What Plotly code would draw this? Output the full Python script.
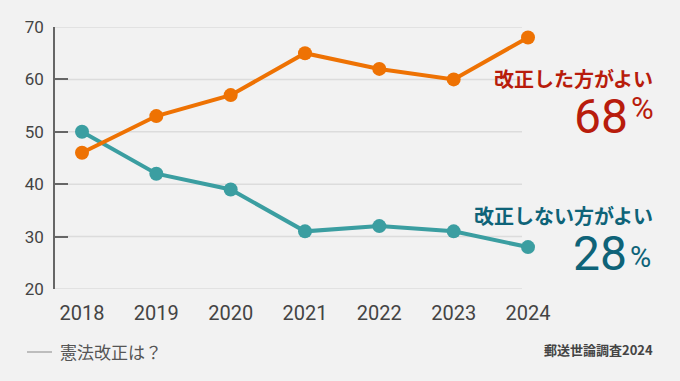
import plotly.graph_objects as go

years = [2018, 2019, 2020, 2021, 2022, 2023, 2024]
kaisei_yes = [46, 53, 57, 65, 62, 60, 68]
kaisei_no = [50, 42, 39, 31, 32, 31, 28]
y_ticks = [20, 30, 40, 50, 60, 70]

label_yes = "改正した方がよい"
label_no = "改正しない方がよい"
value_yes = "68"
value_no = "28"
legend_text = "憲法改正は？"
source_text = "郵送世論調査2024"

W, H = 680, 381
L, R, T, B = 55, 120, 27, 92
PW = W - L - R
PH = H - T - B

def px_x(x):
    return (x - L) / PW

def px_y(y):
    return (H - B - y) / PH

ORANGE = "#ee7203"
TEAL = "#3b9ea1"
RED = "#b81c0c"
BLUE = "#0e6378"
JP = "Noto Sans CJK JP"
NUM = "Roboto"

fig = go.Figure()
fig.add_trace(go.Scatter(x=years, y=kaisei_no, mode="lines+markers",
                         line=dict(color=TEAL, width=4),
                         marker=dict(size=14, color=TEAL),
                         cliponaxis=False, showlegend=False, hoverinfo="skip"))
fig.add_trace(go.Scatter(x=years, y=kaisei_yes, mode="lines+markers",
                         line=dict(color=ORANGE, width=4),
                         marker=dict(size=14, color=ORANGE),
                         cliponaxis=False, showlegend=False, hoverinfo="skip"))

pxyr = (528 - 82) / 6.0
x0 = 2018 - (82 - L) / pxyr
x1 = 2018 + (W - R - 82) / pxyr

shapes = []
grid_end = px_x(522)
for v in y_ticks:
    shapes.append(dict(type="line", xref="paper", yref="y", x0=0, x1=grid_end,
                       y0=v, y1=v, line=dict(color="#dcdcdc", width=1.5), layer="below"))
shapes.append(dict(type="line", xref="paper", yref="paper", x0=px_x(27), x1=px_x(52),
                   y0=px_y(352), y1=px_y(352), line=dict(color="#888888", width=1)))


def ann(text, x, y, anchor, family, size, color, height=None, bold=False):
    d = dict(text=f"<b>{text}</b>" if bold else text, x=px_x(x), y=px_y(y),
             xref="paper", yref="paper", xanchor=anchor, yanchor="middle",
             showarrow=False, borderpad=0, valign="middle",
             font=dict(family=family, size=size, color=color))
    if height is not None:
        d["height"] = height
    return d


annotations = [
    ann(label_yes, 654, 78, "right", JP, 20, RED, height=22, bold=True),
    ann(value_yes, 629, 116, "right", NUM, 48, RED, height=40),
    ann("%", 630, 108, "left", NUM, 31, RED, height=28),
    ann(label_no, 654, 215, "right", JP, 20, BLUE, height=22, bold=True),
    ann(value_no, 628, 253, "right", NUM, 48, BLUE, height=40),
    ann("%", 629, 256, "left", NUM, 29, BLUE, height=27),
    ann(legend_text, 59, 351, "left", JP, 17, "#555555"),
    ann(source_text, 654, 350, "right", JP, 13, "#444444", bold=True),
]

fig.update_layout(
    width=W, height=H,
    margin=dict(l=L, r=R, t=T, b=B, pad=0),
    paper_bgcolor="#f2f2f2", plot_bgcolor="#f2f2f2",
    shapes=shapes, annotations=annotations,
    xaxis=dict(range=[x0, x1], tickvals=years, ticktext=[str(y) for y in years],
               showgrid=False, zeroline=False, showline=False,
               ticks="", ticklabelstandoff=10,
               tickfont=dict(family=NUM, size=20, color="#444444")),
    yaxis=dict(range=[20, 70], tickvals=y_ticks, showgrid=False, zeroline=False,
               showline=True, linecolor="#666666", linewidth=1.5,
               ticks="inside", ticklen=13, tickwidth=1.5, tickcolor="#666666",
               ticklabelstandoff=6,
               tickfont=dict(family=NUM, size=17, color="#444444")),
)

fig.write_html(
    "out.html",
    config={"displayModeBar": False},
    post_script="document.body.style.margin='0';document.body.style.padding='0';"
                "document.body.style.background='#f2f2f2';document.body.style.overflow='hidden';",
)
